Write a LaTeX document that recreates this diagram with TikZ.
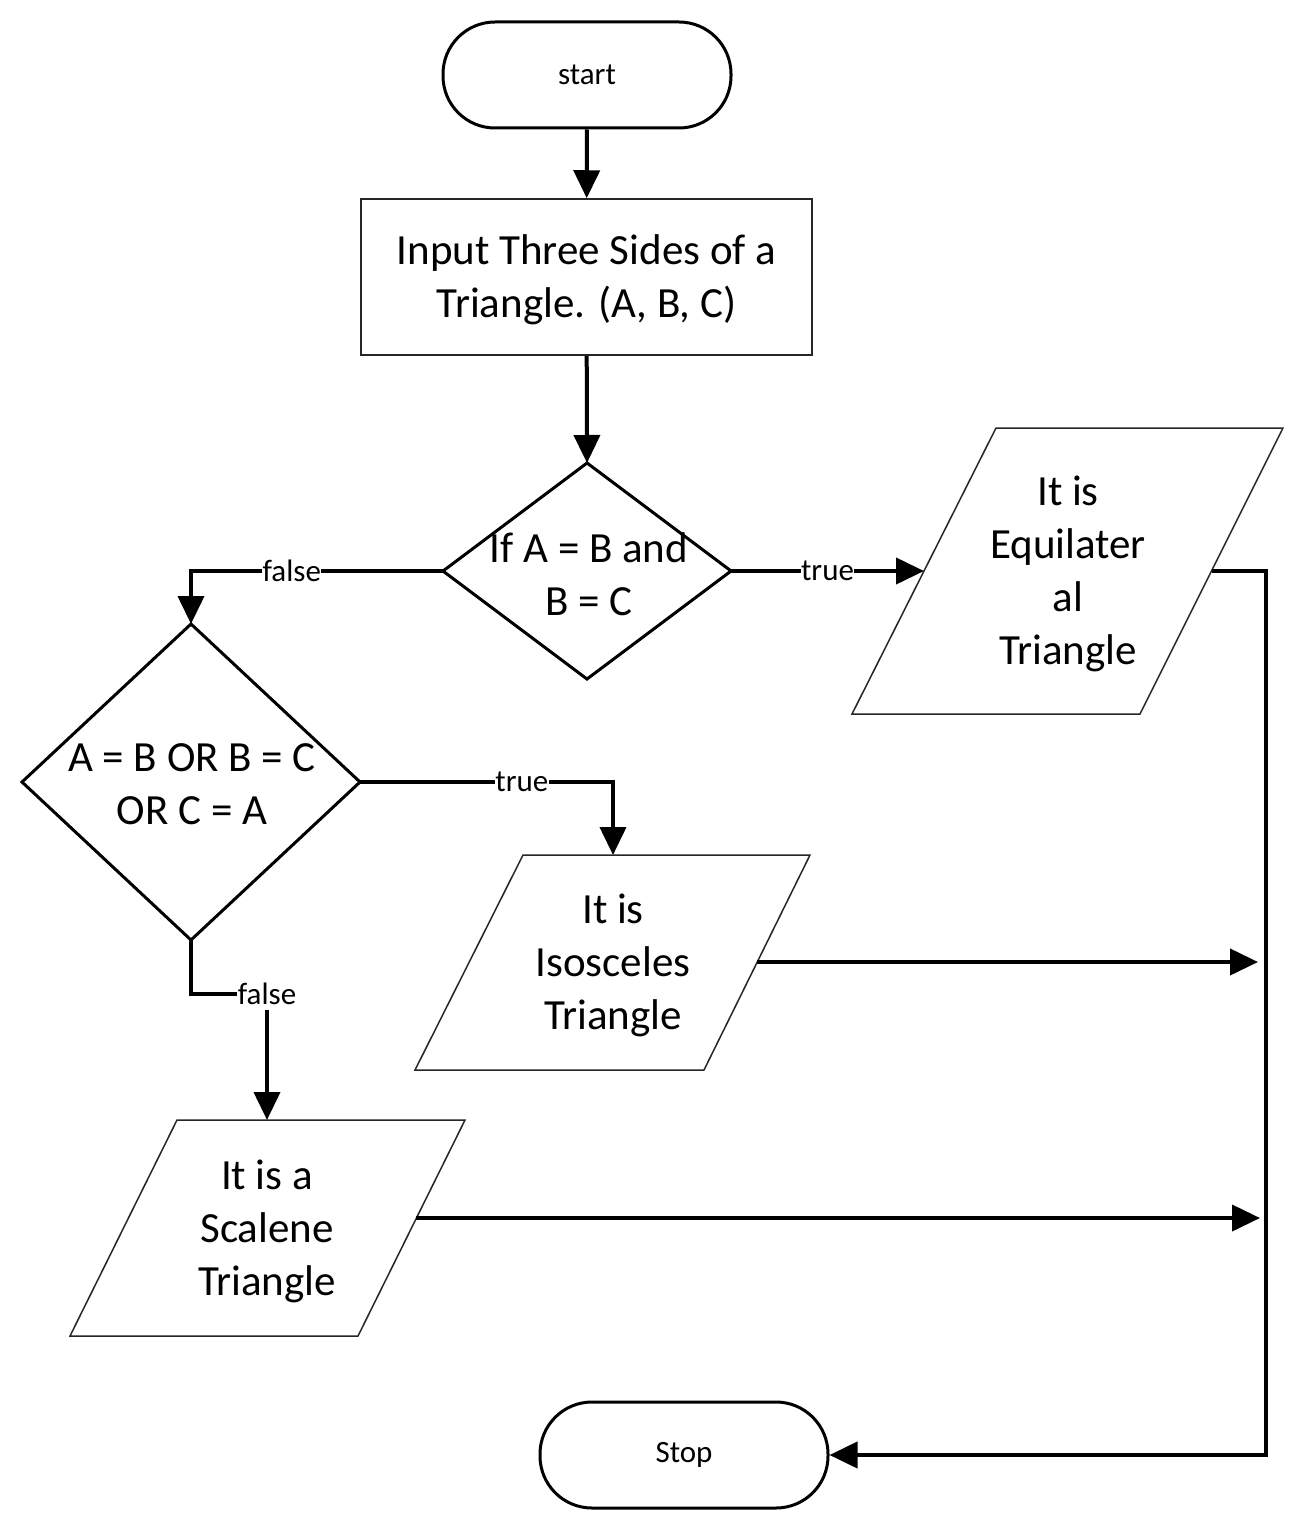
\documentclass[tikz,border=0pt]{standalone}
\usepackage{fontspec}
\setmainfont{Carlito}
\usetikzlibrary{arrows.meta}
\begin{document}
\begin{tikzpicture}[x=1pt,y=-1pt,
  conn/.style={line width=4pt,-{Triangle[length=28pt,width=26pt]}},
  term/.style={draw,line width=3pt,rounded corners=52pt,minimum width=288pt,minimum height=106pt,inner sep=0pt,font=\fontsize{31}{38}\selectfont},
  procbox/.style={draw=black!85,line width=1.5pt,minimum width=451pt,minimum height=156pt,inner sep=0pt,align=center,font=\fontsize{43}{53}\selectfont},
  dshape/.style={draw,line width=3pt,line join=miter},
  pshape/.style={draw=black!85,line width=1.5pt},
  btext/.style={inner sep=0pt,align=center,yshift=-3pt,font=\fontsize{43}{53}\selectfont},
  lbl/.style={fill=white,inner sep=0.5pt,font=\fontsize{31}{36}\selectfont}]
\useasboundingbox (0,0) rectangle (1306,1533);
\fill[white] (0,0) rectangle (1306,1533);

% start and input
\node[term] (start) at (587,75) {start};
\node[procbox] (input) at (586.5,277) {};
\node[btext] (inputtext) at (586.5,277) {Input Three Sides of a\\Triangle. (A, B, C)};

% decision 1
\draw[dshape] (587,463) coordinate (d1t) -- (731,571) coordinate (d1r) -- (587,679) coordinate (d1b) -- (443,571) coordinate (d1l) -- cycle;
\node[btext] (d1) at (589,571) {If A = B and\\B = C};

% equilateral
\draw[pshape] (996,428) -- (1283,428) -- (1140,714) -- (852,714) -- cycle;
\node[btext] (equi) at (1068,571) {It is\\Equilater\\al\\Triangle};
\coordinate (equiL) at (924,571);
\coordinate (equiR) at (1212,571);
\coordinate (rail) at (1266,571);

% decision 2
\draw[dshape] (191,624) coordinate (d2t) -- (360,782) coordinate (d2r) -- (191,940) coordinate (d2b) -- (22,782) coordinate (d2l) -- cycle;
\node[btext] (d2) at (192,781) {A = B OR B = C\\OR C = A};

% isosceles
\draw[pshape] (523,855) -- (810,855) -- (704,1070) -- (415,1070) -- cycle;
\node[btext] (iso) at (613,962) {It is\\Isosceles\\Triangle};
\coordinate (isoT) at (613,855);
\coordinate (isoR) at (757,962);
\coordinate (isoEnd) at (1258,962);

% scalene
\draw[pshape] (177,1120) -- (465,1120) -- (358,1336) -- (70,1336) -- cycle;
\node[btext] (sca) at (267,1228) {It is a\\Scalene\\Triangle};
\coordinate (scaT) at (267,1120);
\coordinate (scaR) at (416,1218);
\coordinate (scaEnd) at (1260,1218);
\coordinate (fcorner) at (267,994);

% stop
\node[term] (stop) at (684,1455) {Stop};

% connectors
\draw[conn] (start) -- (input);
\draw[conn] (input) -- (d1t);
\draw[conn] (d1r) -- node[lbl] {true} (equiL);
\draw[conn] (d1l) -| node[lbl,pos=0.3] {false} (d2t);
\draw[conn] (d2r) -| node[lbl,pos=0.32] {true} (isoT);
\draw[conn] (d2b) |- (fcorner) -- (scaT);
\node[lbl,inner ysep=5pt] (flbl) at (fcorner) {false};
\draw[conn] (isoR) -- (isoEnd);
\draw[conn] (scaR) -- (scaEnd);
\draw[conn] (equiR) -- (rail) |- (stop);
\end{tikzpicture}
\end{document}
